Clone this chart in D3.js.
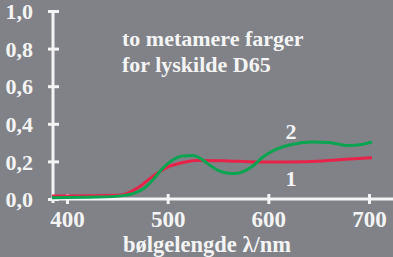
<!DOCTYPE html>
<html><head><meta charset="utf-8">
<script src="https://cdn.jsdelivr.net/npm/d3@7"></script>
<style>html,body{margin:0;padding:0;background:#808287;}svg{display:block;}</style>
</head><body>
<svg id="c" width="393" height="257"></svg>
<script>
const wavelengths1 = [385, 452, 472, 485, 500, 512, 528, 555, 588, 621, 654, 677, 703];
const values1 = [0.016, 0.02, 0.065, 0.12, 0.17, 0.19, 0.205, 0.204, 0.197, 0.197, 0.202, 0.211, 0.22];
const wavelengths2 = [385, 430, 456, 466, 476, 485, 495, 505, 515, 525, 535, 545, 555, 565, 575, 585, 595, 605, 621, 644, 660, 680, 693, 703];
const values2 = [0.007, 0.01, 0.018, 0.03, 0.055, 0.10, 0.163, 0.207, 0.229, 0.231, 0.207, 0.168, 0.142, 0.135, 0.146, 0.177, 0.225, 0.257, 0.287, 0.303, 0.30, 0.284, 0.29, 0.303];
const xTicks = [400, 500, 600, 700];
const yTicks = [0, 0.2, 0.4, 0.6, 0.8, 1.0];
const yTickLabels = ["0,0", "0,2", "0,4", "0,6", "0,8", "1,0"];
const titleLines = ["to metamere farger", "for lyskilde D65"];
const xLabel = "bølgelengde λ/nm";

const svg = d3.select("#c");
const x = d3.scaleLinear().domain([400, 700]).range([67, 369]);
const y = d3.scaleLinear().domain([0, 1]).range([199, 11]);
const white = "#f4f4f4";
const FONT = "Liberation Serif";

// axes
const yAxis = d3.axisLeft(y).tickValues(yTicks).tickSize(0).tickFormat((d,i)=>yTickLabels[i]);
const yg = svg.append("g").attr("transform", "translate(53,0)").call(yAxis);
yg.select(".domain").remove();
yg.selectAll("text").attr("x", -20).attr("dy", "0.35em").attr("fill", white)
  .style("font-family", FONT).style("font-weight","bold").style("font-size", "22px");
svg.append("line").attr("x1", 53).attr("x2", 53).attr("y1", y(1)).attr("y2", y(0) + 4)
  .attr("stroke", white).attr("stroke-width", 3);
yg.selectAll(".tick").append("line").attr("x1", -5).attr("x2", 6).attr("stroke", white).attr("stroke-width", 3);

const xAxis = d3.axisBottom(x).tickValues(xTicks).tickSize(0).tickFormat(d3.format("d"));
const xg = svg.append("g").attr("transform", "translate(0,199)").call(xAxis);
xg.select(".domain").remove();
xg.selectAll("text").attr("y", 20).attr("dy", "0.33em").attr("fill", white)
  .style("font-family", FONT).style("font-weight","bold").style("font-size", "23px");
svg.append("line").attr("x1", 51).attr("x2", 393).attr("y1", 199).attr("y2", 199)
  .attr("stroke", white).attr("stroke-width", 3);
xg.selectAll(".tick").append("line").attr("y1", -5).attr("y2", 5).attr("stroke", white).attr("stroke-width", 3);

// lines
const line = d3.line().curve(d3.curveMonotoneX);
const pts1 = wavelengths1.map((w,i)=>[x(w), y(values1[i])]);
const pts2 = wavelengths2.map((w,i)=>[x(w), y(values2[i])]);
svg.append("path").attr("d", line(pts1)).attr("fill","none").attr("stroke","#e8234a").attr("stroke-width",3);
svg.append("path").attr("d", line(pts2)).attr("fill","none").attr("stroke","#0ba552").attr("stroke-width",3);

// labels
const labels = [
  {t: "2", x: 291, y: 139, a: "middle", s: 22},
  {t: "1", x: 291, y: 186, a: "middle", s: 22},
  {t: titleLines[0], x: 122, y: 46, a: "start", s: 22},
  {t: titleLines[1], x: 122, y: 72, a: "start", s: 22},
  {t: xLabel, x: 207, y: 252, a: "middle", s: 22.5}
];
svg.selectAll("text.lbl").data(labels).enter().append("text").attr("class","lbl")
  .attr("x", d=>d.x).attr("y", d=>d.y).attr("text-anchor", d=>d.a)
  .attr("fill", white).style("font-family", FONT).style("font-weight","bold")
  .style("font-size", d=>d.s+"px").text(d=>d.t);
</script>
</body></html>
